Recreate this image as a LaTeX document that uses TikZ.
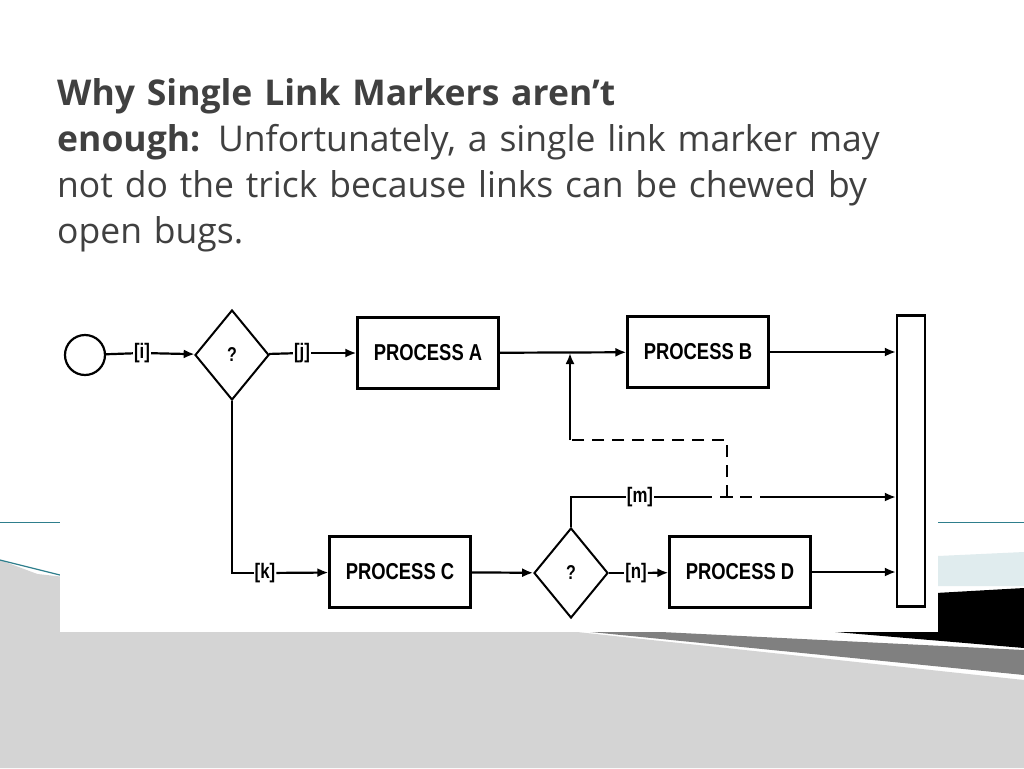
\documentclass[tikz,border=0pt]{standalone}
\usepackage{fontspec}
\setmainfont{Open Sans}
\newfontfamily\boxfont{Liberation Sans}[FakeStretch=0.8]
\usetikzlibrary{shapes.geometric,arrows.meta}
\definecolor{titlegray}{HTML}{404040}
\definecolor{teal}{HTML}{2E7E8C}
\definecolor{hatch}{HTML}{D4D4D4}
\tikzset{
  proc/.style = {draw, line width=2.2pt, minimum width=141pt, minimum height=71pt, font=\boxfont\bfseries\fontsize{23}{23}\selectfont},
  dec/.style = {draw, diamond, line width=2pt, minimum width=74pt, minimum height=90pt, inner sep=0pt, font=\boxfont\bfseries\fontsize{20}{20}\selectfont},
  lbl/.style = {inner sep=1pt, font=\boxfont\bfseries\fontsize{21}{21}\selectfont},
  flow/.style = {line width=2.2pt, -{Latex[length=11pt,width=9pt]}},
  link/.style = {line width=2.2pt}
}
\begin{document}
\begin{tikzpicture}[x=1pt, y=-1pt]
    \useasboundingbox (0,0) rectangle (1024,768);
    % slide background
    \fill[white] (0,0) rectangle (1024,768);
    \fill[hatch] (0,570) -- (1024,680) -- (1024,768) -- (0,768) -- cycle;
    \fill[hatch] (0,560) -- (80,590) -- (0,590) -- cycle;
    \fill[gray] (520,625) -- (1024,650) -- (1024,675) -- cycle;
    \fill[black] (600,612) -- (1024,588) -- (1024,648) -- cycle;
    \fill[teal!15] (938,556) -- (1024,552) -- (1024,586) -- (938,586) -- cycle;
    \draw[teal, line width=0.8pt] (0,522) -- (60,522) (938,522) -- (1024,522);
    \draw[teal, line width=1.2pt] (0,560) -- (60,575);
    \fill[white] (60,300) rectangle (938,632);
    % title
    \node[anchor=north west, text width=890pt, align=left, inner sep=0pt, text=titlegray,
          font=\fontsize{35.5}{46}\selectfont] (title) at (57,78)
      {\textbf{Why Single Link Markers aren{\char39}t}\\ \textbf{enough:} Unfortunately, a single link marker may not do the trick because links can be chewed by open bugs.};
    % diagram
    \node[draw, circle, line width=2.2pt, minimum size=40pt] (start) at (85,355) {};
    \node[lbl] (i) at (142,353) {[i]};
    \node[dec] (q1) at (232,355) {?};
    \node[lbl] (j) at (302,353) {[j]};
    \node[proc] (pa) at (428,353) {PROCESS A};
    \node[proc] (pb) at (698,352) {PROCESS B};
    \node[draw, line width=2.2pt, minimum width=28pt, minimum height=291pt, inner sep=0pt] (bar) at (911,461) {};
    \node[lbl] (k) at (265,573) {[k]};
    \node[proc] (pc) at (400,572) {PROCESS C};
    \node[dec] (q2) at (571,573) {?};
    \node[lbl] (n) at (636,573) {[n]};
    \node[proc] (pd) at (740,572) {PROCESS D};
    \node[lbl] (m) at (640,497) {[m]};
    \coordinate (jn) at (570,353);
    \coordinate (tee) at (727,497);

    \draw[link] (start) -- (i);
    \draw[flow] (i) -- (q1);
    \draw[link] (q1) -- (j);
    \draw[flow] (j) -- (pa);
    \draw[flow] (pa) -- (pb);
    \draw[flow] (pb) -- (pb -| bar.west);
    \draw[link] (q1.south) |- (k);
    \draw[flow] (k) -- (pc);
    \draw[flow] (pc) -- (q2);
    \draw[link] (q2) -- (n);
    \draw[flow] (n) -- (pd);
    \draw[flow] (pd) -- (pd -| bar.west);
    \draw[link] (q2.north) |- (m);
    \draw[link] (m) -- (700,497);
    \draw[link, dash pattern=on 12pt off 8pt] (700,497) -- (765,497);
    \draw[flow] (765,497) -- (m -| bar.west);
    \draw[link, dash pattern=on 12pt off 8pt] (tee) -- (727,440) -- (570,440);
    \draw[link] (tee) ++(-6,0) -- ++(12,0);
    \draw[flow] (570,440) -- (jn);
\end{tikzpicture}
\end{document}
